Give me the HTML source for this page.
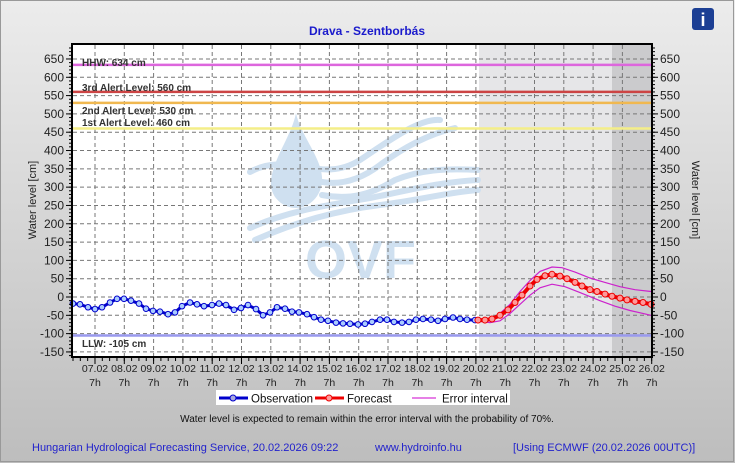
<!DOCTYPE html>
<html><head><meta charset="utf-8"><style>
body{margin:0;width:735px;height:463px;overflow:hidden;font-family:"Liberation Sans",sans-serif}
svg text{font-family:"Liberation Sans",sans-serif}
</style></head><body>
<svg id="s" width="735" height="463" xmlns="http://www.w3.org/2000/svg">
<defs><linearGradient id="bg" x1="0" y1="0" x2="0" y2="1"><stop offset="0" stop-color="#ececec"/><stop offset="1" stop-color="#bdbdbd"/></linearGradient></defs>
<rect x="0" y="0" width="735" height="463" fill="url(#bg)"/>
<rect x="0.5" y="0.5" width="733" height="461" fill="none" stroke="#999"/>
<rect x="72" y="44" width="580" height="313" fill="#fff"/>
<rect x="479" y="44" width="133" height="313" fill="#e6e6e8"/>
<rect x="612" y="44" width="40" height="313" fill="#cbcbcd"/>
<g fill="#cfe0f0" stroke="none">
<path d="M296,113 C300,135 324,160 322,182 C320,200 306,208 296,208 C284,208 270,198 271,182 C272,160 292,135 296,113Z"/>
</g>
<g fill="none" stroke="#cfe0f0" stroke-width="6" stroke-linecap="round">
<path d="M250,172 C290,150 320,185 360,160 C390,140 420,118 440,120"/>
<path d="M322,182 C340,185 360,180 380,165 C400,150 425,135 455,128"/>
<path d="M322,195 C350,200 370,195 395,180 C420,170 445,168 478,170"/>
<path d="M255,240 C300,220 340,210 380,205 C420,200 450,192 478,190"/>
<path d="M250,228 C290,210 330,205 370,198 C410,190 440,182 478,180"/>
</g>
<text x="305" y="278" font-size="54" font-weight="bold" fill="#cfe0f0">OVF</text>
<g id="grid" stroke="#777" stroke-dasharray="4,3" stroke-width="1"></g>
<g id="lines"></g>
<rect x="72" y="44" width="580" height="313" fill="none" stroke="#000" stroke-width="2"/>
<g id="ticks" stroke="#000"></g>
<g id="labels" font-size="12" fill="#222"></g>
<text x="367" y="35" font-size="12" font-weight="bold" fill="#1a1acc" text-anchor="middle">Drava - Szentborbás</text>
<text transform="translate(36,200) rotate(-90)" font-size="11" fill="#222" text-anchor="middle">Water level [cm]</text>
<text transform="translate(692,200) rotate(90)" font-size="11" fill="#222" text-anchor="middle">Water level [cm]</text>
<rect x="692" y="8" width="22" height="22" rx="3" fill="#1c3f94"/>
<text x="703" y="26" font-size="18" font-weight="bold" fill="#fff" text-anchor="middle" font-family="Liberation Serif">i</text>
<rect x="216" y="390" width="294" height="15" fill="#fff"/>
<line x1="219" y1="398" x2="248" y2="398" stroke="#0000cc" stroke-width="3"/><circle cx="233" cy="398" r="3" fill="#aad" stroke="#0000cc"/>
<text x="251" y="402.5" font-size="11.5" fill="#111">Observation</text>
<line x1="315" y1="398" x2="344" y2="398" stroke="#e00" stroke-width="3"/><circle cx="329" cy="398" r="3" fill="#f99" stroke="#e00"/>
<text x="347" y="402.5" font-size="11.5" fill="#111">Forecast</text>
<line x1="412" y1="398" x2="436" y2="398" stroke="#c0c" stroke-width="1"/>
<text x="442" y="402.5" font-size="11.5" fill="#111">Error interval</text>
<text x="367" y="422" font-size="10" fill="#111" text-anchor="middle">Water level is expected to remain within the error interval with the probability of 70%.</text>
<text x="32" y="451" font-size="11" fill="#2222cc">Hungarian Hydrological Forecasting Service, 20.02.2026 09:22</text>
<text x="375" y="451" font-size="11" fill="#2222cc">www.hydroinfo.hu</text>
<text x="513" y="451" font-size="11" fill="#2222cc">[Using ECMWF (20.02.2026  00UTC)]</text>
</svg>
<script>
const NS="http://www.w3.org/2000/svg";
const Y=v=>297-v*0.3662;
function el(p,t,a,txt){const e=document.createElementNS(NS,t);for(const k in a)e.setAttribute(k,a[k]);if(txt!=null)e.textContent=txt;document.getElementById(p).appendChild(e);return e;}
const g='grid';
for(let i=0;i<20;i++){const x=95+i*29.3;if(x<651)el(g,'line',{x1:x,y1:45,x2:x,y2:356});}
for(let v=-150;v<=650;v+=50){el(g,'line',{x1:73,y1:Y(v),x2:651,y2:Y(v)});}
const L=[[634,'#dd66dd'],[560,'#cc4444'],[530,'#f0b850'],[460,'#f4ee88'],[-105,'#9999ee']];
L.forEach(([v,c])=>el('lines','line',{x1:73,y1:Y(v),x2:651,y2:Y(v),stroke:c,'stroke-width':2.5}));
const lt=[[82,66,'HHW: 634 cm'],[82,91,'3rd Alert Level: 560 cm'],[82,114,'2nd Alert Level: 530 cm'],[82,126,'1st Alert Level: 460 cm'],[82,347,'LLW: -105 cm']];
lt.forEach(([x,y,t])=>el('lines','text',{x:x,y:y,'font-size':10,fill:'#333','font-weight':'bold'},t));
const obs=[[73,-18],[80,-20],[88,-28],[95,-33],[102,-28],[110,-15],[117,-5],[124,-5],[131,-10],[139,-18],[146,-32],[153,-38],[160,-40],[168,-47],[175,-42],[182,-25],[190,-15],[197,-20],[204,-25],[212,-22],[219,-18],[226,-22],[234,-35],[241,-30],[248,-22],[256,-33],[263,-50],[270,-42],[277,-28],[285,-32],[292,-40],[299,-42],[307,-47],[314,-55],[321,-62],[328,-65],[336,-70],[343,-72],[350,-73],[358,-75],[365,-73],[372,-68],[380,-62],[387,-62],[394,-68],[402,-70],[409,-68],[416,-62],[423,-60],[431,-62],[438,-65],[445,-60],[453,-56],[460,-60],[467,-62],[475,-63]];
const fc=[[478,-63],[485,-63],[492,-60],[500,-50],[508,-35],[515,-15],[522,5],[530,30],[537,48],[545,58],[552,62],[560,57],[567,50],[575,40],[582,30],[590,20],[597,15],[605,8],[612,2],[620,-3],[627,-8],[635,-12],[643,-15],[651,-20]];
const up=[[478,-60],[490,-62],[500,-45],[510,-20],[520,15],[530,45],[540,70],[552,82],[562,80],[575,68],[590,52],[605,40],[620,28],[635,20],[651,15]];
const lo=[[478,-66],[490,-70],[500,-65],[510,-45],[520,-20],[530,5],[540,25],[552,35],[565,28],[580,12],[600,-10],[615,-25],[630,-37],[651,-50]];
const pts=a=>a.map(p=>p[0]+','+Y(p[1]).toFixed(1)).join(' ');
el('lines','polyline',{points:pts(up),fill:'none',stroke:'#cc22cc','stroke-width':1.2});
el('lines','polyline',{points:pts(lo),fill:'none',stroke:'#cc22cc','stroke-width':1.2});
el('lines','polyline',{points:pts(obs),fill:'none',stroke:'#0000cc','stroke-width':3});
obs.forEach(p=>el('lines','circle',{cx:p[0],cy:Y(p[1]),r:2.8,fill:'#aaccff',stroke:'#0000cc'}));
el('lines','polyline',{points:pts(fc),fill:'none',stroke:'#ee0000','stroke-width':4});
fc.forEach(p=>el('lines','circle',{cx:p[0],cy:Y(p[1]),r:3,fill:'#ff9999',stroke:'#ee0000'}));
for(let v=-150;v<=650;v+=50){const y=Y(v);
 el('ticks','line',{x1:66,y1:y,x2:72,y2:y});el('ticks','line',{x1:652,y1:y,x2:658,y2:y});
 el('labels','text',{x:64,y:y+4,'text-anchor':'end'},v);el('labels','text',{x:660,y:y+4},v);}
for(let v=-160;v<=680;v+=10){const y=Y(v);if(y<44||y>357)continue;
 el('ticks','line',{x1:69,y1:y,x2:72,y2:y});el('ticks','line',{x1:652,y1:y,x2:655,y2:y});}
for(let x=73;x<=652;x+=7.325){el('ticks','line',{x1:x,y1:357,x2:x,y2:361});}
for(let i=0;i<20;i++){const x=95+i*29.3;const d=(7+i);
 el('ticks','line',{x1:x,y1:357,x2:x,y2:364});
 el('labels','text',{x:x,y:372,'text-anchor':'middle','font-size':10.5},(d<10?'0':'')+d+'.02');
 el('labels','text',{x:x,y:386,'text-anchor':'middle','font-size':10.5},'7h');}
</script>
</body></html>
